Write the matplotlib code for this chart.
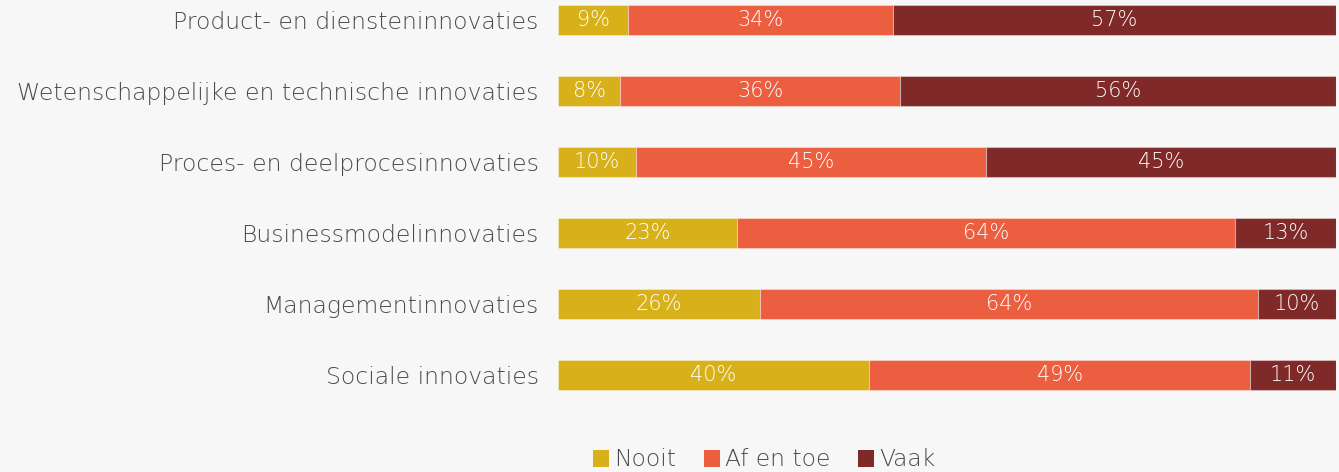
import matplotlib
matplotlib.use("Agg")
import matplotlib.pyplot as plt
from matplotlib.patches import Patch

categories = ["Product- en diensteninnovaties",
              "Wetenschappelijke en technische innovaties",
              "Proces- en deelprocesinnovaties",
              "Businessmodelinnovaties",
              "Managementinnovaties",
              "Sociale innovaties"]
nooit = [9, 8, 10, 23, 26, 40]
afentoe = [34, 36, 45, 64, 64, 49]
vaak = [57, 56, 45, 13, 10, 11]
series_names = ["Nooit", "Af en toe", "Vaak"]
colors = ["#D8B01A", "#EC5E40", "#7F2A28"]

plt.rcParams['font.family'] = ['DejaVu Sans']
plt.rcParams['font.weight'] = 'light'
bg = "#F7F7F7"
textc = "#4A4A4A"

fig = plt.figure(figsize=(13.39, 4.72), dpi=100, facecolor=bg)
ax = fig.add_axes([558/1339, 1-410/472, (1336-558)/1339, 410/472])
ax.set_facecolor(bg)

ypos = list(range(len(categories)))
left = [0]*len(categories)
for vals, col in zip([nooit, afentoe, vaak], colors):
    ax.barh(ypos, vals, left=left, height=0.41, color=col,
            edgecolor=(1, 1, 1, 0.35), linewidth=0.8)
    for y, v, l in zip(ypos, vals, left):
        ax.text(l + v/2, y, f"{v}%", ha="center", va="center",
                color="white", fontsize=15, fontweight='light')
    left = [a + b for a, b in zip(left, vals)]

ax.set_xlim(0, 100)
ax.set_ylim((410-20)/71, -20/71)
ax.set_yticks(ypos)
ax.set_yticklabels(categories, fontsize=16.9, color=textc, fontweight='light')
ax.tick_params(axis='y', length=0, pad=14)
ax.set_xticks([])
for s in ax.spines.values():
    s.set_visible(False)

handles = [Patch(facecolor=c, edgecolor='none') for c in colors]
fig.legend(handles, series_names, loc="center", bbox_to_anchor=(764/1339, 1-460/472),
           ncol=3, frameon=False, labelcolor=textc,
           prop={'weight': 'light', 'size': 16.8},
           handlelength=0.7, handleheight=0.7, handletextpad=0.2, columnspacing=1.2)

fig.savefig("out.png", dpi=100, facecolor=bg)
